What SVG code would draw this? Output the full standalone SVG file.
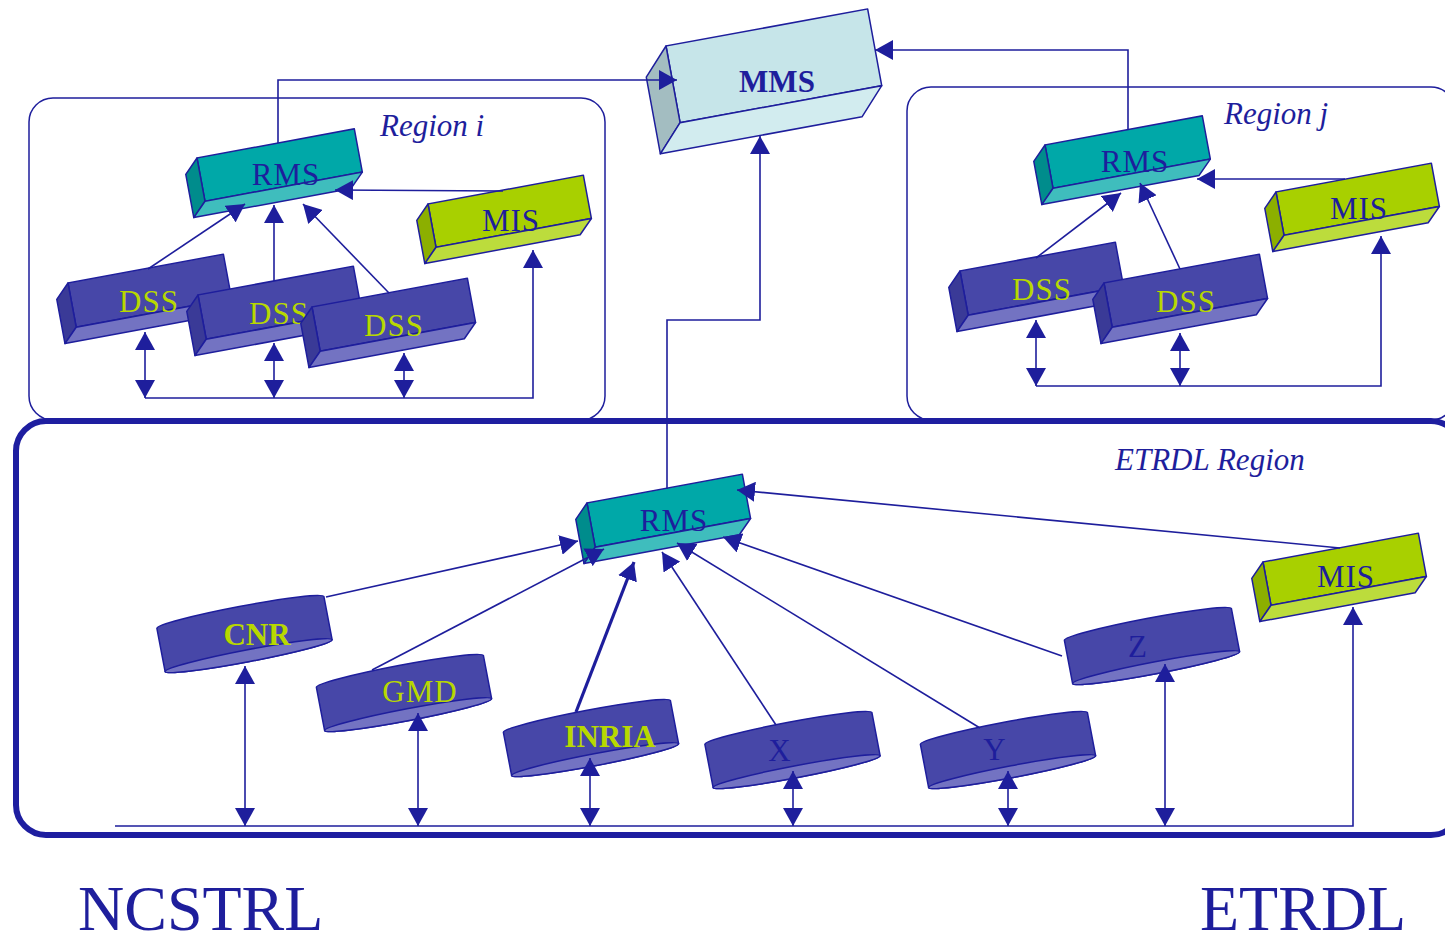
<svg xmlns="http://www.w3.org/2000/svg" width="1445" height="946" viewBox="0 0 1445 946">
<defs>
<marker id="ah" viewBox="0 0 18 20" refX="18" refY="10" markerWidth="18" markerHeight="20" markerUnits="userSpaceOnUse" orient="auto-start-reverse">
<path d="M0,0 L18,10 L0,20 z" fill="#1E1E9C"/>
</marker>
<g id="cyl">
<path d="M-85,-22 A85,6 0 0 1 85,-22 L85,22 A85,6 0 0 1 -85,22 Z" fill="#4747A8" stroke="#1E1E9C" stroke-width="1.5"/>
<ellipse cx="0" cy="22" rx="85" ry="6" fill="#7373C2" stroke="#1E1E9C" stroke-width="1.5"/>
</g>
</defs>
<style>
.ln{fill:none;stroke:#1E1E9C;stroke-width:1.6}
.thick{stroke-width:3.2}
.e{marker-end:url(#ah)}
.d{marker-start:url(#ah);marker-end:url(#ah)}
.st{stroke:#1E1E9C;stroke-width:1.5;stroke-linejoin:round}
.rmsF{fill:#00A8A8}.rmsS{fill:#008C8C}.rmsB{fill:#3FBDBD}
.misF{fill:#A8D000}.misS{fill:#8CAF00}.misB{fill:#BCDC3C}
.dssF{fill:#4747A8}.dssS{fill:#3A3A97}.dssB{fill:#7373C2}
.t{font-family:"Liberation Serif",serif;font-size:31px;text-anchor:middle;fill:#1E1E9C;letter-spacing:1px}
.ty{fill:#B8D800}
.tb{font-weight:bold;letter-spacing:0}
.rg{font-family:"Liberation Serif",serif;font-size:31px;font-style:italic;fill:#1E1E9C}
.big{font-family:"Liberation Serif",serif;font-size:64px;fill:#1E1E9C}
.reg{fill:none;stroke:#1E1E9C;stroke-width:1.5}
</style>

<g id="regions">
<rect class="reg" x="29" y="98" width="576" height="322" rx="24"/>
<rect class="reg" x="907" y="87" width="548" height="333" rx="24"/>
<rect x="16" y="421" width="1445" height="414" rx="30" fill="none" stroke="#1E1EA0" stroke-width="6"/>
<text class="rg" x="380" y="136">Region i</text>
<text class="rg" x="1224" y="124">Region j</text>
<text class="rg" x="1115" y="470">ETRDL Region</text>
</g>

<g id="mms">
<g transform="translate(666,46) rotate(-10.4)">
<rect class="st" x="0" y="0" width="205" height="78" fill="#C6E5E9"/>
<polygon class="st" points="0,0 0,78 -25,105 -25,27" fill="#A3BDC1"/>
<polygon class="st" points="0,78 205,78 180,105 -25,105" fill="#D2ECEF"/>
</g>
<text class="t tb" x="777" y="92">MMS</text>
</g>

<g id="rms_i">
<g transform="translate(197,158) rotate(-10.5)">
<rect class="st rmsF" x="0" y="0" width="160" height="44"/>
<polygon class="st rmsS" points="0,0 0,44 -14,58 -14,14"/>
<polygon class="st rmsB" points="0,44 160,44 146,58 -14,58"/>
</g>
<text class="t" x="286" y="185">RMS</text>
</g>

<g id="mis_i">
<g transform="translate(428,204) rotate(-10.5)">
<rect class="st misF" x="0" y="0" width="158" height="44"/>
<polygon class="st misS" points="0,0 0,44 -14,58 -14,14"/>
<polygon class="st misB" points="0,44 158,44 144,58 -14,58"/>
</g>
<text class="t" x="511" y="231">MIS</text>
</g>

<g id="dss_i1">
<g transform="translate(68,283) rotate(-10.5)">
<rect class="st dssF" x="0" y="0" width="158" height="45"/>
<polygon class="st dssS" points="0,0 0,45 -14,59 -14,14"/>
<polygon class="st dssB" points="0,45 158,45 144,59 -14,59"/>
</g>
<text class="t ty" x="149" y="312">DSS</text>
</g>

<g id="dss_i2">
<g transform="translate(198,295) rotate(-10.5)">
<rect class="st dssF" x="0" y="0" width="158" height="45"/>
<polygon class="st dssS" points="0,0 0,45 -14,59 -14,14"/>
<polygon class="st dssB" points="0,45 158,45 144,59 -14,59"/>
</g>
<text class="t ty" x="279" y="324">DSS</text>
</g>

<g id="dss_i3">
<g transform="translate(312,307) rotate(-10.5)">
<rect class="st dssF" x="0" y="0" width="158" height="45"/>
<polygon class="st dssS" points="0,0 0,45 -14,59 -14,14"/>
<polygon class="st dssB" points="0,45 158,45 144,59 -14,59"/>
</g>
<text class="t ty" x="394" y="336">DSS</text>
</g>

<g id="rms_j">
<g transform="translate(1045,145) rotate(-10.5)">
<rect class="st rmsF" x="0" y="0" width="160" height="44"/>
<polygon class="st rmsS" points="0,0 0,44 -14,58 -14,14"/>
<polygon class="st rmsB" points="0,44 160,44 146,58 -14,58"/>
</g>
<text class="t" x="1135" y="172">RMS</text>
</g>

<g id="mis_j">
<g transform="translate(1276,192) rotate(-10.5)">
<rect class="st misF" x="0" y="0" width="158" height="44"/>
<polygon class="st misS" points="0,0 0,44 -14,58 -14,14"/>
<polygon class="st misB" points="0,44 158,44 144,58 -14,58"/>
</g>
<text class="t" x="1359" y="219">MIS</text>
</g>

<g id="dss_j1">
<g transform="translate(960,271) rotate(-10.5)">
<rect class="st dssF" x="0" y="0" width="158" height="45"/>
<polygon class="st dssS" points="0,0 0,45 -14,59 -14,14"/>
<polygon class="st dssB" points="0,45 158,45 144,59 -14,59"/>
</g>
<text class="t ty" x="1042" y="300">DSS</text>
</g>

<g id="dss_j2">
<g transform="translate(1104,283) rotate(-10.5)">
<rect class="st dssF" x="0" y="0" width="158" height="45"/>
<polygon class="st dssS" points="0,0 0,45 -14,59 -14,14"/>
<polygon class="st dssB" points="0,45 158,45 144,59 -14,59"/>
</g>
<text class="t ty" x="1186" y="312">DSS</text>
</g>

<g id="rms_e">
<g transform="translate(587,503) rotate(-10.5)">
<rect class="st rmsF" x="0" y="0" width="158" height="45"/>
<polygon class="st rmsS" points="0,0 0,45 -14,59 -14,14"/>
<polygon class="st rmsB" points="0,45 158,45 144,59 -14,59"/>
</g>
<text class="t" x="674" y="531">RMS</text>
</g>

<g id="mis_e">
<g transform="translate(1263,562) rotate(-10.5)">
<rect class="st misF" x="0" y="0" width="158" height="44"/>
<polygon class="st misS" points="0,0 0,44 -14,58 -14,14"/>
<polygon class="st misB" points="0,44 158,44 144,58 -14,58"/>
</g>
<text class="t" x="1346" y="587">MIS</text>
</g>

<g id="cnr">
<use href="#cyl" transform="translate(244.5,634) rotate(-10.8)"/>
<text class="t ty tb" x="257" y="645">CNR</text>
</g>
<g id="gmd">
<use href="#cyl" transform="translate(404,693) rotate(-10.8)"/>
<text class="t ty" x="420" y="702">GMD</text>
</g>
<g id="inria">
<use href="#cyl" transform="translate(591,738) rotate(-10.8)"/>
<text class="t ty tb" x="610" y="747">INRIA</text>
</g>
<g id="x">
<use href="#cyl" transform="translate(792.5,750) rotate(-10.8)"/>
<text class="t" x="780" y="761" fill="#2A2AB0">X</text>
</g>
<g id="y">
<use href="#cyl" transform="translate(1008,750) rotate(-10.8)"/>
<text class="t" x="995" y="760" fill="#2A2AB0">Y</text>
</g>
<g id="z">
<use href="#cyl" transform="translate(1152,646) rotate(-10.8)"/>
<text class="t" x="1138" y="657" fill="#2A2AB0">Z</text>
</g>

<g id="connectors">
<polyline class="ln e" points="278,143 278,80 677,80"/>
<polyline class="ln e" points="1128,130 1128,50 875,50"/>
<polyline class="ln e" points="667,489 667,320 760,320 760,136"/>

<line class="ln e" x1="148" y1="269" x2="245" y2="204"/>
<line class="ln e" x1="274" y1="281" x2="274" y2="205"/>
<line class="ln e" x1="389" y1="293" x2="303" y2="204"/>
<line class="ln e" x1="503" y1="191" x2="335" y2="190"/>
<line class="ln d" x1="145" y1="332" x2="145" y2="398"/>
<line class="ln d" x1="274" y1="343" x2="274" y2="398"/>
<line class="ln d" x1="404" y1="353" x2="404" y2="398"/>
<polyline class="ln e" points="145,398 533,398 533,250"/>

<line class="ln e" x1="1036" y1="258" x2="1121" y2="193"/>
<line class="ln e" x1="1180" y1="269" x2="1140" y2="183"/>
<line class="ln e" x1="1345" y1="179" x2="1197" y2="179"/>
<line class="ln d" x1="1036" y1="320" x2="1036" y2="386"/>
<line class="ln d" x1="1180" y1="333" x2="1180" y2="386"/>
<polyline class="ln e" points="1036,386 1381,386 1381,236"/>

<line class="ln e" x1="326" y1="597" x2="578" y2="541"/>
<line class="ln e" x1="372" y1="670" x2="604" y2="549"/>
<line class="ln e thick" x1="576" y1="712" x2="634" y2="562"/>
<line class="ln e" x1="776" y1="725" x2="662" y2="552"/>
<line class="ln e" x1="980" y1="728" x2="677" y2="543"/>
<line class="ln e" x1="1062" y1="656" x2="723" y2="537"/>
<line class="ln e" x1="1340" y1="548" x2="737" y2="490"/>
<line class="ln d" x1="245" y1="666" x2="245" y2="826"/>
<line class="ln d" x1="418" y1="713" x2="418" y2="826"/>
<line class="ln d" x1="590" y1="758" x2="590" y2="826"/>
<line class="ln d" x1="793" y1="771" x2="793" y2="826"/>
<line class="ln d" x1="1008" y1="771" x2="1008" y2="826"/>
<line class="ln d" x1="1165" y1="664" x2="1165" y2="826"/>
<polyline class="ln e" points="115,826 1353,826 1353,607"/>
</g>

<g id="titles">
<text class="big" x="78" y="930">NCSTRL</text>
<text class="big" x="1200" y="930">ETRDL</text>
</g>
</svg>
